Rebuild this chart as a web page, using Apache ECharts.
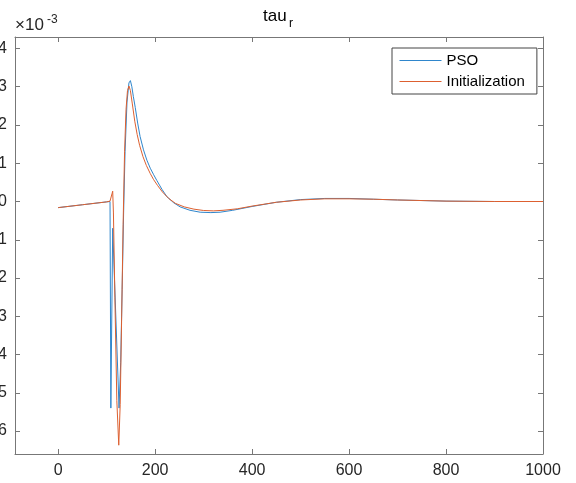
<!DOCTYPE html>
<html>
<head>
<meta charset="utf-8">
<script src="https://cdn.jsdelivr.net/npm/echarts@6/dist/echarts.min.js"></script>
<style>
  html, body { margin: 0; padding: 0; background: #fff; }
  #chart { width: 576px; height: 483px; }
</style>
</head>
<body>
<div id="chart"></div>
<script>
// values are in units of 1e-3
var psoX = [0, 50, 100, 107, 108.7, 112.5, 125.6, 129, 132, 135, 138, 142, 146, 149, 152, 155, 159, 164, 169, 176, 183, 190, 197, 203.5, 214, 224, 238, 251.5, 272, 293, 315, 334, 360, 400, 450, 500, 550, 600, 650, 700, 800, 900, 1000];
var psoY = [-0.16, -0.085, -0.01, 0.0, -5.4, -0.7, -5.4, -4.2, -2.3, -0.3, 1.3, 2.6, 3.1, 3.16, 3.0, 2.75, 2.46, 2.05, 1.7, 1.35, 1.08, 0.87, 0.7, 0.55, 0.32, 0.13, -0.03, -0.14, -0.23, -0.28, -0.29, -0.28, -0.23, -0.13, -0.02, 0.05, 0.08, 0.08, 0.06, 0.04, 0.01, 0.0, 0.0];

var initX = [0, 50, 100, 107, 109, 111, 112.5, 114, 117, 121, 125, 128, 131, 134, 137, 140, 143, 146, 149, 153, 158, 163, 168, 175, 182, 190, 197, 205, 215, 228, 242, 260, 280, 300, 320, 340, 370, 400, 450, 500, 550, 600, 650, 700, 800, 900, 1000];
var initY = [-0.16, -0.085, -0.01, 0.01, 0.05, 0.2, 0.27, -0.3, -2.5, -5.2, -6.37, -5.3, -3.0, -0.6, 1.3, 2.4, 2.9, 3.02, 2.9, 2.55, 2.1, 1.75, 1.47, 1.17, 0.94, 0.73, 0.57, 0.42, 0.25, 0.08, -0.05, -0.14, -0.2, -0.235, -0.245, -0.23, -0.19, -0.12, -0.02, 0.04, 0.07, 0.07, 0.06, 0.04, 0.01, 0.0, 0.0];

var xTicks = [0, 200, 400, 600, 800, 1000];
var yTicks = [-6, -5, -4, -3, -2, -1, 0, 1, 2, 3, 4];
var seriesNames = ['PSO', 'Initialization'];

function pairs(xs, ys) {
	var out = [];
	for (var i = 0; i < xs.length; i++) {
		out.push([xs[i], ys[i]]);
	}
	return out;
}

var font = 'Liberation Sans, Arial, sans-serif';
var axisColor = '#777';
var textColor = '#262626';
var blue = '#2f86cc';
var orange = '#dd6030';

var myChart = echarts.init(document.getElementById('chart'));

var option = {
	animation: false,
	backgroundColor: '#fff',
	grid: {
		left: 15,
		top: 37,
		right: 33,
		bottom: 29,
		containLabel: false,
		outerBoundsMode: 'none'
	},
	graphic: [
		{ type: 'text', left: 263, top: 8, style: { text: 'tau', font: '17px ' + font, fill: '#000' } },
		{ type: 'text', left: 289, top: 18, style: { text: 'r', font: '12px ' + font, fill: '#000' } },
		{ type: 'text', left: 15, top: 17, style: { text: '\u00d710', font: '17px ' + font, fill: textColor } },
		{ type: 'text', left: 47, top: 14, style: { text: '-3', font: '12px ' + font, fill: textColor } }
	],
	legend: {
		orient: 'vertical',
		left: 392,
		top: 48,
		width: 144,
		backgroundColor: '#fff',
		borderColor: '#444',
		borderWidth: 1,
		padding: [5, 12, 5, 7],
		itemWidth: 42,
		itemHeight: 12,
		itemGap: 6,
		itemStyle: { opacity: 0 },
		lineStyle: { width: 1, color: 'inherit' },
		textStyle: { fontFamily: font, fontSize: 15, color: '#000' },
		data: seriesNames
	},
	xAxis: [{
		type: 'value',
		min: -89,
		max: 1000,
		axisLine: { show: true, onZero: false, lineStyle: { color: axisColor } },
		axisTick: { show: true, inside: true, length: 5, customValues: xTicks, lineStyle: { color: axisColor } },
		axisLabel: {
			customValues: xTicks, margin: 9, fontFamily: font, fontSize: 16, color: textColor,
			formatter: function (v) { return String(v); }
		},
		splitLine: { show: false }
	}, {
		type: 'value',
		position: 'top',
		min: -89,
		max: 1000,
		axisLine: { show: true, onZero: false, lineStyle: { color: axisColor } },
		axisTick: { show: true, inside: true, length: 5, customValues: xTicks, lineStyle: { color: axisColor } },
		axisLabel: { show: false },
		splitLine: { show: false }
	}],
	yAxis: [{
		type: 'value',
		min: -6.6,
		max: 4.3,
		axisLine: { show: true, onZero: false, lineStyle: { color: axisColor } },
		axisTick: { show: true, inside: true, length: 5, customValues: yTicks, lineStyle: { color: axisColor } },
		axisLabel: {
			customValues: yTicks, margin: 8, fontFamily: font, fontSize: 16, color: textColor,
			formatter: function (v) { return String(v); }
		},
		splitLine: { show: false }
	}, {
		type: 'value',
		position: 'right',
		min: -6.6,
		max: 4.3,
		axisLine: { show: true, onZero: false, lineStyle: { color: axisColor } },
		axisTick: { show: true, inside: true, length: 5, customValues: yTicks, lineStyle: { color: axisColor } },
		axisLabel: { show: false },
		splitLine: { show: false }
	}],
	series: [{
		name: seriesNames[0],
		type: 'line',
		symbol: 'none',
		smooth: false,
		lineStyle: { width: 1, color: blue },
		itemStyle: { color: blue },
		data: pairs(psoX, psoY)
	}, {
		name: seriesNames[1],
		type: 'line',
		symbol: 'none',
		smooth: false,
		lineStyle: { width: 1, color: orange },
		itemStyle: { color: orange },
		data: pairs(initX, initY)
	}]
};

myChart.setOption(option);
</script>
</body>
</html>
